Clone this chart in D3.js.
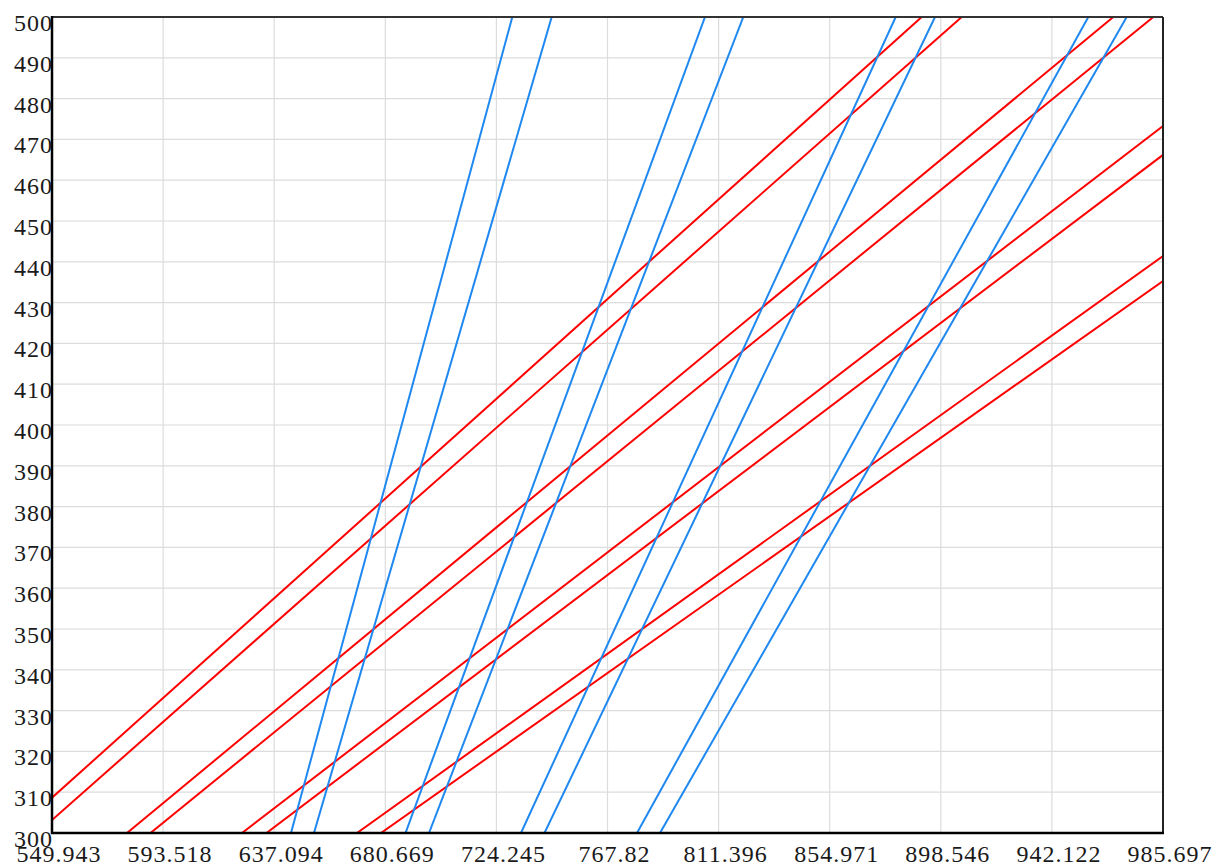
<!DOCTYPE html>
<html>
<head>
<meta charset="utf-8">
<script src="https://cdn.jsdelivr.net/npm/d3@7"></script>
<style>
  html, body { margin: 0; padding: 0; background: #fff; }
  svg { display: block; }
  .tick-label { font-family: "Liberation Serif", "Times New Roman", serif; font-size: 24px; fill: #1a1a1a; letter-spacing: 1px; }
</style>
</head>
<body>
<svg id="chart" width="1218" height="865"></svg>
<script>
// Axis ranges and tick labels
const xDomain = [549.943, 985.697];
const yDomain = [300, 500];
const xTickLabels = ["549.943", "593.518", "637.094", "680.669", "724.245", "767.82",
                     "811.396", "854.971", "898.546", "942.122", "985.697"];
const yTickLabels = [300, 310, 320, 330, 340, 350, 360, 370, 380, 390, 400,
                     410, 420, 430, 440, 450, 460, 470, 480, 490, 500];

// Red family: each line as [start, end] in data units
const redLines = [
  [[549.943, 308.65], [891.05, 500]],
  [[549.943, 303.19], [906.75, 500]],
  [[579.36, 300], [966.20, 500]],
  [[588.58, 300], [981.90, 500]],
  [[624.46, 300], [985.697, 473.3]],
  [[634.07, 300], [985.697, 466.2]],
  [[669.57, 300], [985.697, 441.4]],
  [[678.98, 300], [985.697, 435.3]]
];

// Blue family: each line as [start, end] in data units
const blueLines = [
  [[643.68, 300], [730.48, 500]],
  [[652.70, 300], [745.93, 500]],
  [[688.59, 300], [806.06, 500]],
  [[697.81, 300], [821.08, 500]],
  [[733.89, 300], [880.86, 500]],
  [[743.11, 300], [896.27, 500]],
  [[779.39, 300], [956.40, 500]],
  [[788.41, 300], [971.46, 500]]
];

const margin = { left: 52, right: 55, top: 17, bottom: 32 };
const W = 1218, H = 865;
const x = d3.scaleLinear().domain(xDomain).range([margin.left, W - margin.right]);
const y = d3.scaleLinear().domain(yDomain).range([H - margin.bottom, margin.top]);

const svg = d3.select("#chart");

svg.append("defs").append("clipPath").attr("id", "plot-clip")
  .append("rect")
  .attr("x", x.range()[0]).attr("y", y.range()[1])
  .attr("width", x.range()[1] - x.range()[0])
  .attr("height", y.range()[0] - y.range()[1]);

const xTickVals = xTickLabels.map(Number);

// Grid
const grid = svg.append("g").attr("class", "grid");
grid.selectAll("line.v").data(xTickVals.slice(1, -1)).join("line")
  .attr("x1", d => x(d)).attr("x2", d => x(d))
  .attr("y1", y(yDomain[0])).attr("y2", y(yDomain[1]))
  .attr("stroke", "#dcdcdc").attr("stroke-width", 1.2);
grid.selectAll("line.h").data(yTickLabels.slice(1, -1)).join("line")
  .attr("x1", x(xDomain[0])).attr("x2", x(xDomain[1]))
  .attr("y1", d => y(d)).attr("y2", d => y(d))
  .attr("stroke", "#dcdcdc").attr("stroke-width", 1.2);

// Lines
const line = d3.line().x(d => x(d[0])).y(d => y(d[1]));
const plot = svg.append("g").attr("clip-path", "url(#plot-clip)");
plot.selectAll("path.red").data(redLines).join("path")
  .attr("class", "red")
  .attr("d", line)
  .attr("fill", "none").attr("stroke", "#ff0000").attr("stroke-width", 2);
plot.selectAll("path.blue").data(blueLines).join("path")
  .attr("class", "blue")
  .attr("d", line)
  .attr("fill", "none").attr("stroke", "#1e88f0").attr("stroke-width", 2);

// Frame
svg.append("line")
  .attr("x1", x(xDomain[0])).attr("x2", x(xDomain[1]))
  .attr("y1", y(yDomain[1])).attr("y2", y(yDomain[1]))
  .attr("stroke", "#333").attr("stroke-width", 2);
svg.append("line")
  .attr("x1", x(xDomain[1])).attr("x2", x(xDomain[1]))
  .attr("y1", y(yDomain[1])).attr("y2", y(yDomain[0]))
  .attr("stroke", "#222").attr("stroke-width", 2);
svg.append("line")
  .attr("x1", x(xDomain[0]) - 1).attr("x2", x(xDomain[1]) + 1)
  .attr("y1", y(yDomain[0])).attr("y2", y(yDomain[0]))
  .attr("stroke", "#000").attr("stroke-width", 2.5);
svg.append("line")
  .attr("x1", x(xDomain[0])).attr("x2", x(xDomain[0]))
  .attr("y1", y(yDomain[1]) - 1).attr("y2", y(yDomain[0]) + 1)
  .attr("stroke", "#000").attr("stroke-width", 2.5);

// Tick labels
svg.append("g").selectAll("text").data(xTickLabels).join("text")
  .attr("class", "tick-label")
  .attr("x", d => x(+d) + 7)
  .attr("y", y(yDomain[0]) + 29)
  .attr("text-anchor", "middle")
  .text(d => d);

svg.append("g").selectAll("text").data(yTickLabels).join("text")
  .attr("class", "tick-label")
  .attr("x", x(xDomain[0]) + 1)
  .attr("y", d => y(d) + 14)
  .attr("text-anchor", "end")
  .text(d => d);
</script>
</body>
</html>
